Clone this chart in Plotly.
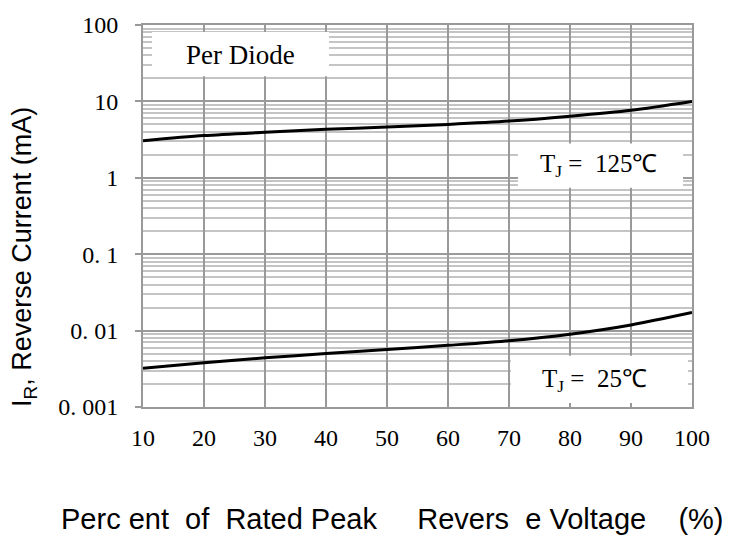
import plotly.graph_objects as go

# Data
pct = [10, 20, 30, 40, 50, 60, 70, 80, 90, 100]
ir_125 = [3.05, 3.57, 3.94, 4.31, 4.62, 5.0, 5.52, 6.4, 7.66, 10.0]
ir_25 = [0.00321, 0.00379, 0.0044, 0.00501, 0.00564, 0.00641, 0.00737, 0.00898, 0.01186, 0.01725]

x_ticks = [10, 20, 30, 40, 50, 60, 70, 80, 90, 100]
y_ticks = [0.001, 0.01, 0.1, 1, 10, 100]
y_ticktext = ["0. 001", "0. 01", "0. 1", "1", "10", "100"]
y_minor = [k * 10.0 ** e for e in range(-3, 2) for k in range(2, 10)]

SERIF = "Liberation Serif, Times New Roman, serif"
SANS = "Liberation Sans, Arial, sans-serif"

fig = go.Figure()
for ys in (ir_125, ir_25):
    fig.add_trace(go.Scatter(x=pct, y=ys, mode="lines",
                             line=dict(color="black", width=3, shape="spline", smoothing=0.8),
                             showlegend=False, hoverinfo="skip"))

fig.update_layout(
    width=729, height=539,
    margin=dict(l=143, r=37, t=20, b=132),
    paper_bgcolor="white", plot_bgcolor="white",
    showlegend=False,
)

fig.update_xaxes(
    range=[10, 100], tickvals=x_ticks, ticktext=[str(v) for v in x_ticks],
    showgrid=True, gridcolor="#999999", gridwidth=2,
    showline=True, linecolor="#999999", linewidth=2, mirror=True,
    zeroline=False, ticks="", ticklabelstandoff=8,
    tickfont=dict(family=SERIF, size=24, color="black"),
)
fig.update_yaxes(
    type="log", range=[-3, 2], tickvals=y_ticks, ticktext=y_ticktext,
    showgrid=True, gridcolor="#9a9a9a", gridwidth=2,
    showline=True, linecolor="#999999", linewidth=2, mirror=True,
    zeroline=False, ticks="outside", ticklen=6, tickcolor="#999999", tickwidth=2,
    ticklabelstandoff=12,
    tickfont=dict(family=SERIF, size=24, color="black"),
    minor=dict(tickvals=y_minor, showgrid=True, gridcolor="#c4c4c4", gridwidth=1.5, ticks=""),
)

# white label boxes covering the grid
boxes = [
    (0.0164, 0.3388, 0.866, 0.982),
    (0.683, 0.9836, 0.574, 0.690),
    (0.670, 0.9927, 0.0103, 0.134),
]
for x0, x1, y0, y1 in boxes:
    fig.add_shape(type="rect", xref="paper", yref="paper", x0=x0, x1=x1, y0=y0, y1=y1,
                  fillcolor="white", line=dict(width=0), layer="above")

labels = [
    ("Per Diode", 0.1785, 0.9225, 27),
    ("T<sub>J</sub> =  125℃", 0.8288, 0.633, 25),
    ("T<sub>J</sub> =  25℃", 0.823, 0.0698, 25),
]
for txt, xx, yy, sz in labels:
    fig.add_annotation(text=txt, xref="paper", yref="paper", x=xx, y=yy,
                       showarrow=False, xanchor="center", yanchor="middle",
                       font=dict(family=SERIF, size=sz, color="black"))

# axis titles
fig.add_annotation(text="I<sub>R</sub>, Reverse Current (mA)", xref="paper", yref="paper",
                   x=(24 - 143) / 549, y=(407 - 255) / 387, textangle=-90,
                   showarrow=False, xanchor="center", yanchor="middle",
                   font=dict(family=SANS, size=27, color="black"))
fig.add_annotation(text="Perc ent  of  Rated Peak     Revers  e Voltage    (%)",
                   xref="paper", yref="paper",
                   x=(392 - 143) / 549, y=(407 - 520) / 387,
                   showarrow=False, xanchor="center", yanchor="middle",
                   font=dict(family=SANS, size=29, color="black"))

fig.write_html("out.html")
